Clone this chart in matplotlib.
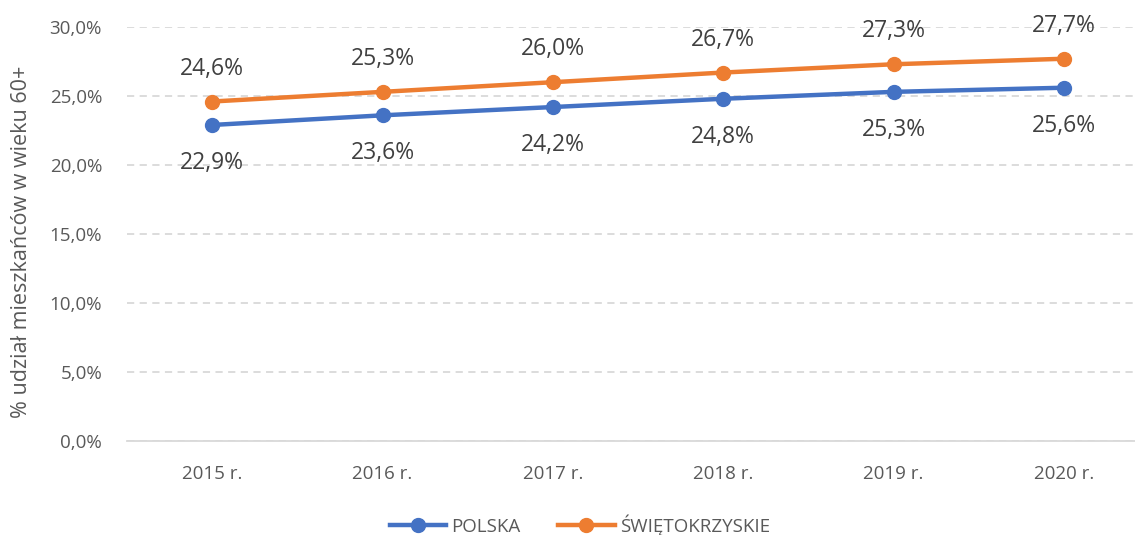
import matplotlib.pyplot as plt
from matplotlib.ticker import FuncFormatter

# dane
lata = ['2015 r.', '2016 r.', '2017 r.', '2018 r.', '2019 r.', '2020 r.']
polska = [22.9, 23.6, 24.2, 24.8, 25.3, 25.6]
swietokrzyskie = [24.6, 25.3, 26.0, 26.7, 27.3, 27.7]

plt.rcParams['font.family'] = ['Open Sans', 'DejaVu Sans']

fig = plt.figure(figsize=(11.35, 5.35), dpi=100)
ax = fig.add_axes([127/1135, 94/535, 1022/1135, 414/535])

x = range(len(lata))
niebieski = '#4472C4'
pomaranczowy = '#ED7D31'

ax.plot(x, polska, color=niebieski, lw=3.2, marker='o', ms=10, label='POLSKA', zorder=3)
ax.plot(x, swietokrzyskie, color=pomaranczowy, lw=3.2, marker='o', ms=10,
        label='ŚWIĘTOKRZYSKIE', zorder=3)

def fmt(v):
    return f'{v:.1f}%'.replace('.', ',')

for i, v in enumerate(polska):
    ax.annotate(fmt(v), (i, v), xytext=(0, -38), textcoords='offset pixels',
                ha='center', va='center', fontsize=16.5, color='#404040')
for i, v in enumerate(swietokrzyskie):
    ax.annotate(fmt(v), (i, v), xytext=(0, 33), textcoords='offset pixels',
                ha='center', va='center', fontsize=16.5, color='#404040')

ax.set_xlim(-0.5, 5.5)
ax.set_ylim(0, 30)
ax.set_yticks(range(0, 31, 5))
ax.yaxis.set_major_formatter(FuncFormatter(lambda v, p: fmt(v)))
ax.set_xticks(list(x))
ax.set_xticklabels(lata)
ax.tick_params(axis='both', length=0, labelsize=13.5, colors='#595959')
ax.tick_params(axis='x', pad=17)
ax.tick_params(axis='y', pad=18)

ax.grid(axis='y', color='#D9D9D9', linestyle=(0, (4, 3)), lw=1.3)
for s in ['top', 'right', 'left']:
    ax.spines[s].set_visible(False)
ax.spines['bottom'].set_color('#D9D9D9')
ax.spines['bottom'].set_linewidth(1.3)
ax.set_axisbelow(True)

ax.set_ylabel('% udział mieszkańców w wieku 60+', fontsize=15.5, color='#595959')
ax.yaxis.set_label_coords(-0.093, 0.48)

fig.legend(loc='center', bbox_to_anchor=(580/1135, 1 - 525/535), ncol=2, frameon=False,
           fontsize=13.5, labelcolor='#595959', handlelength=3, columnspacing=2.0,
           handletextpad=0.3)

fig.savefig('out.png', dpi=100)
